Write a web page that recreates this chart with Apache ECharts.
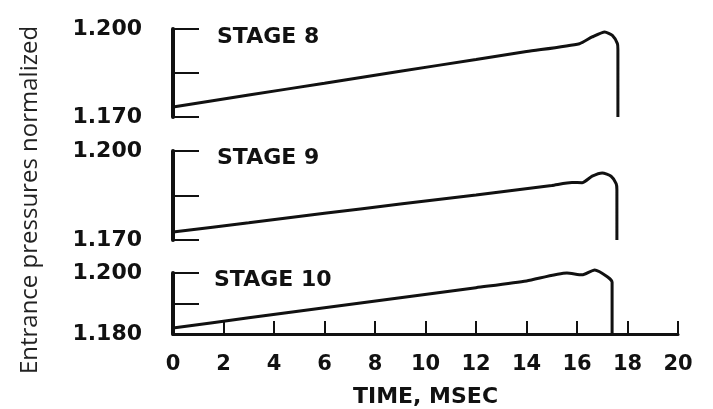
<!DOCTYPE html>
<html><head><meta charset="utf-8">
<script src="https://cdn.jsdelivr.net/npm/echarts@6/dist/echarts.min.js"></script>
<style>html,body{margin:0;padding:0;background:#fff}#c{width:713px;height:409px}</style>
</head><body><div id="c"></div>
<script>
const xTicks = [0, 2, 4, 6, 8, 10, 12, 14, 16, 18, 20];
const stageNames = ['STAGE 8', 'STAGE 9', 'STAGE 10'];
const yRanges = [[1.170, 1.200, 0.015], [1.170, 1.200, 0.015], [1.180, 1.200, 0.010]];
const stage8 = [[0,1.1734],[3,1.1775],[6,1.1815],[9,1.1856],[12,1.1896],[14,1.1923],[16.1,1.1950],[16.6,1.1973],[17.1,1.1990],[17.4,1.1978],[17.6,1.1950],[17.62,1.1930],[17.62,1.1700]];
const stage9 = [[0,1.1727],[3,1.1758],[6,1.1790],[9,1.1821],[12,1.1852],[15,1.1884],[15.8,1.1894],[16.2,1.1893],[16.6,1.1915],[17.0,1.1926],[17.35,1.1915],[17.55,1.1890],[17.58,1.1870],[17.58,1.1700]];
const stage10 = [[0,1.1820],[3,1.1853],[6,1.1886],[9,1.1919],[12,1.1952],[14,1.1974],[15.6,1.2000],[16.2,1.1994],[16.7,1.2010],[17.2,1.1988],[17.39,1.1970],[17.39,1.1800]];
const seriesData = [stage8, stage9, stage10];

const font = 'DejaVu Sans';
const gridPos = [[29, 117], [151, 240], [273, 334]];
const chart = echarts.init(document.getElementById('c'));
const grids = gridPos.map(g => ({left: 173, right: 35, top: g[0], height: g[1] - g[0]}));
const xAxes = gridPos.map((g, i) => ({
  type: 'value', gridIndex: i, min: 0, max: 20, interval: 2,
  show: i === 2,
  axisLine: {show: true, lineStyle: {color: '#111', width: 3}},
  axisTick: {show: true, inside: true, length: 13, lineStyle: {color: '#111', width: 2}},
  axisLabel: {show: true, margin: 20, color: '#111', fontFamily: font, fontWeight: 'bold', fontSize: 21,
    formatter: v => xTicks.includes(v) ? String(v) : ''},
  splitLine: {show: false},
  name: i === 2 ? 'TIME, MSEC' : '', nameLocation: 'middle', nameGap: 52,
  nameTextStyle: {color: '#111', fontFamily: font, fontWeight: 'bold', fontSize: 22}
}));
const yAxes = yRanges.map((r, i) => ({
  type: 'value', gridIndex: i, min: r[0], max: r[1], interval: r[2],
  axisLine: {show: true, lineStyle: {color: '#111', width: 4}},
  axisTick: {show: true, inside: true, length: 26, lineStyle: {color: '#111', width: 2}},
  axisLabel: {margin: 31, color: '#111', fontFamily: font, fontWeight: 'bold', fontSize: 22,
    formatter: v => (Math.abs(v - r[0]) < 1e-6 || Math.abs(v - r[1]) < 1e-6) ? v.toFixed(3) : ''},
  splitLine: {show: false}
}));
const series = seriesData.map((d, i) => ({
  type: 'line', xAxisIndex: i, yAxisIndex: i, data: d, showSymbol: false, clip: false,
  smooth: 0.2, lineStyle: {color: '#111', width: 3}
}));
const labelPos = [[217, 37], [217, 158], [214, 280]];
const graphic = stageNames.map((s, i) => ({
  type: 'text', x: labelPos[i][0], y: labelPos[i][1],
  style: {text: s, fill: '#111', font: 'bold 22px "DejaVu Sans"', textAlign: 'left', textVerticalAlign: 'middle'}
}));
graphic.push({type: 'text', x: 30, y: 200, rotation: Math.PI / 2,
  style: {text: 'Entrance pressures normalized', fill: '#222', font: '24px "Open Sans"', textAlign: 'center', textVerticalAlign: 'middle'}});
chart.setOption({animation: false, grid: grids, xAxis: xAxes, yAxis: yAxes, series: series, graphic: graphic});
</script></body></html>
